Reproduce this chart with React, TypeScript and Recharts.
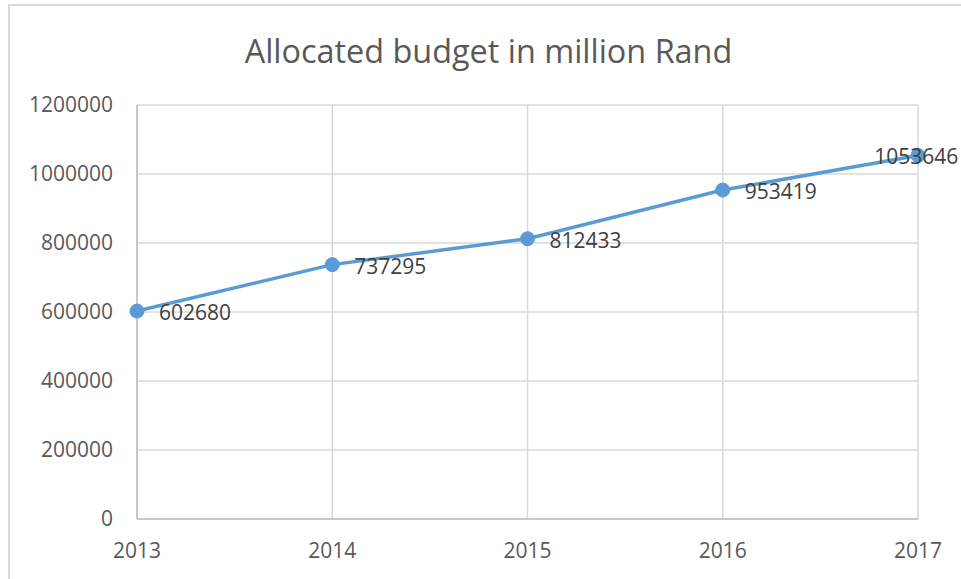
import React from 'react';
import { LineChart, Line, XAxis, YAxis, CartesianGrid, LabelList, Customized } from 'recharts';

const years = ['2013', '2014', '2015', '2016', '2017'];
const budget = [602680, 737295, 812433, 953419, 1053646];
const yTicks = [0, 200000, 400000, 600000, 800000, 1000000, 1200000];
const title = 'Allocated budget in million Rand';

const data = years.map((y, i) => ({ year: y, value: budget[i] }));

const W = 961;
const H = 579;
const FONT = '"Open Sans", sans-serif';

const DataLabel = (props: any) => {
  const { x, y, value } = props;
  const s = String(value);
  const w = s.length * 12.1;
  const tx = Math.min(x + 22, W - 2 - w);
  return (
    <text x={tx} y={y + 9} fill="#404040" fontSize={21} fontFamily={FONT} textAnchor="start">
      {s}
    </text>
  );
};

export default function App() {
  return (
    <div style={{ position: 'absolute', left: 0, top: 0, width: W, height: H, overflow: 'hidden', background: '#fff' }}>
      <div
        style={{
          position: 'absolute',
          left: 8,
          top: 4,
          width: 1200,
          height: 1200,
          borderLeft: '2px solid #d9d9d9',
          borderTop: '2px solid #d9d9d9',
        }}
      />
      <div style={{ position: 'absolute', left: 0, top: 0 }}>
        <LineChart width={W} height={H} data={data} margin={{ top: 105, right: 43, bottom: 0, left: 0 }}>
          <Customized
            component={() => (
              <text x={488.5} y={62.5} textAnchor="middle" fill="#595959" fontSize={32.4} fontFamily={FONT}>
                {title}
              </text>
            )}
          />
          <CartesianGrid stroke="#d9d9d9" strokeWidth={1.5} vertical={true} horizontal={true} />
          <XAxis
            dataKey="year"
            scale="point"
            padding={{ left: 0, right: 0 }}
            height={60}
            tickLine={false}
            tickSize={6}
            tickMargin={18}
            axisLine={{ stroke: '#bfbfbf', strokeWidth: 1.5 }}
            tick={{ fill: '#595959', fontSize: 21, fontFamily: FONT }}
            interval={0}
          />
          <YAxis
            width={137}
            domain={[0, 1200000]}
            ticks={yTicks}
            tickLine={false}
            tickSize={6}
            tickMargin={18}
            axisLine={{ stroke: '#bfbfbf', strokeWidth: 1.5 }}
            tick={{ fill: '#595959', fontSize: 21, fontFamily: FONT }}
            interval={0}
          />
          <Line
            type="linear"
            dataKey="value"
            stroke="#5b9bd5"
            strokeWidth={3.5}
            dot={{ r: 7, fill: '#5b9bd5', stroke: '#5b9bd5', strokeWidth: 1 }}
            isAnimationActive={false}
          >
            <LabelList dataKey="value" content={<DataLabel />} />
          </Line>
        </LineChart>
      </div>
    </div>
  );
}
